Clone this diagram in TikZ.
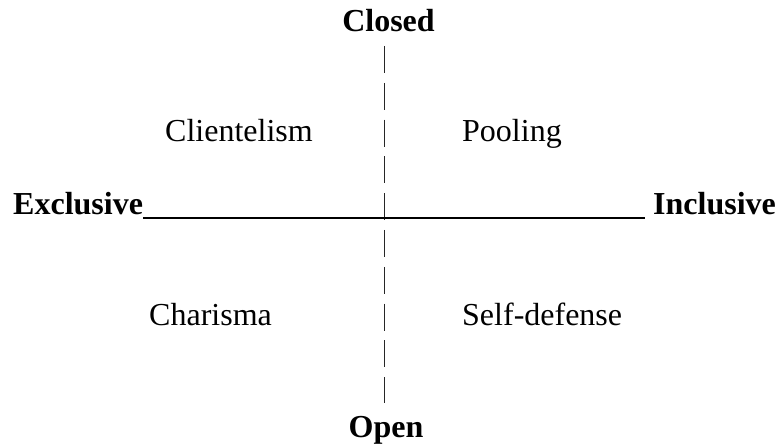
\documentclass[tikz,border=0pt]{standalone}
\usepackage{fontspec}
\setmainfont{Liberation Serif}
\begin{document}
\begin{tikzpicture}[x=1pt,y=1pt,
  lbl/.style={inner sep=0pt, font=\fontsize{32}{37}\selectfont},
  axislbl/.style={lbl, font=\fontsize{32}{37}\selectfont\bfseries},
  vaxis/.style={line width=1.8pt, draw=black!85, dash pattern=on 27pt off 9.8pt},
  haxis/.style={line width=1.5pt, draw=black}]
\useasboundingbox (0,0) rectangle (776,445);
% axis labels
\node[axislbl, anchor=base] (closed) at (388.5,413) {Closed};
\node[axislbl, anchor=base] (open) at (386,8) {Open};
\node[axislbl, anchor=base west] (excl) at (13,230) {Exclusive};
\node[axislbl, anchor=base west] (incl) at (653,230) {Inclusive};
% quadrant labels
\node[lbl, anchor=base west] (client) at (165,303) {Clientelism};
\node[lbl, anchor=base west] (pool) at (462,303) {Pooling};
\node[lbl, anchor=base west] (char) at (149,120) {Charisma};
\node[lbl, anchor=base west] (self) at (462,120) {Self-defense};
% axes
\coordinate (vtop) at (384.5,399);
\coordinate (vbot) at (384.5,42);
\coordinate (hleft) at (143,227);
\coordinate (hright) at (645,227);
\draw[vaxis] (vtop) -- (vbot);
\draw[haxis] (hleft) -- (hright);
\end{tikzpicture}
\end{document}
